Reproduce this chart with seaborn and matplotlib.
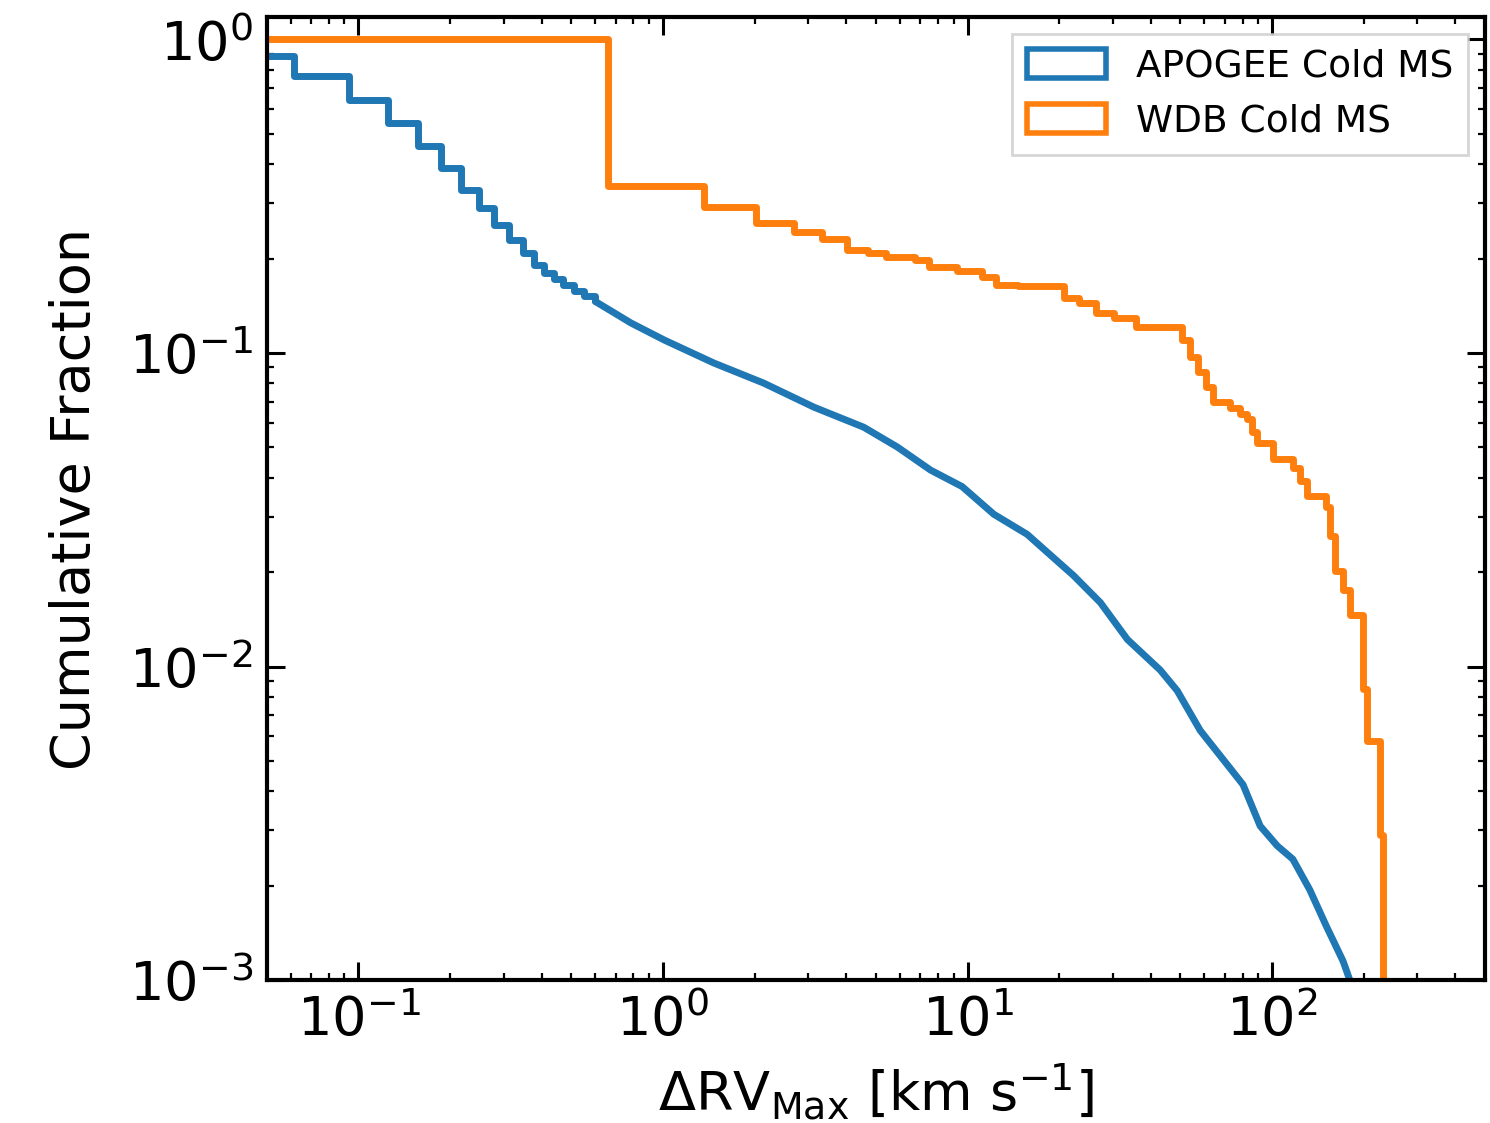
import matplotlib
matplotlib.use("Agg")
import matplotlib.pyplot as plt
import matplotlib.patches as mpatches
import pandas as pd
import seaborn as sns

# ─── Data ────────────────────────────────────────────────────────────────────

# APOGEE cold MS: coarse steps at small ΔRV
apogee_step_x = [0.04, 0.0616, 0.0934, 0.125, 0.157, 0.187, 0.218, 0.249,
                 0.279, 0.313, 0.347, 0.378, 0.407, 0.44, 0.47, 0.51, 0.55, 0.6]
apogee_step_f = [0.885, 0.767, 0.643, 0.543, 0.456, 0.390, 0.332, 0.290,
                 0.256, 0.230, 0.209, 0.191, 0.180, 0.172, 0.165, 0.158, 0.152, 0.146]

# APOGEE cold MS: dense part where the steps are sub-pixel
apogee_x = [0.6, 0.785, 1.01, 1.47, 2.14, 3.13, 4.56, 5.89, 7.57, 9.6, 12.2,
            15.7, 17.7, 22.3, 27.3, 33.5, 42.9, 48.8, 58.1, 71.2, 80.3, 91.4,
            104, 117, 133, 151, 171, 180, 190]
apogee_f = [0.146, 0.1247, 0.110, 0.0929, 0.0802, 0.0672, 0.0580, 0.0501,
            0.0423, 0.0375, 0.0306, 0.0264, 0.0238, 0.0195, 0.0160, 0.0122,
            0.00975, 0.00838, 0.00625, 0.00487, 0.00420, 0.0031, 0.00268,
            0.00243, 0.00194, 0.00148, 0.00115, 0.001, 0.0008]

# WDB cold MS
wdb_x = [0.04, 0.66, 1.36, 2.02, 2.69, 3.32, 4.01, 4.73, 5.42, 6.70, 7.50,
         9.27, 11.2, 12.4, 14.7, 20.8, 23.3, 26.5, 30.3, 35.8, 50.7, 53.8,
         57.2, 60.8, 64.1, 72.8, 78.5, 82.8, 86.0, 89.3, 100.7, 117, 123.5,
         130, 150, 155, 161, 171, 180, 199, 205, 226, 231]
wdb_f = [1.0, 0.342, 0.293, 0.260, 0.244, 0.231, 0.213, 0.209, 0.203, 0.198,
         0.188, 0.182, 0.175, 0.165, 0.163, 0.150, 0.1445, 0.134, 0.129, 0.121,
         0.110, 0.097, 0.087, 0.078, 0.070, 0.067, 0.064, 0.0615, 0.056,
         0.0515, 0.046, 0.043, 0.039, 0.0349, 0.0323, 0.026, 0.0201, 0.0175,
         0.0146, 0.0085, 0.0058, 0.0029, 1e-5]

labels = ["APOGEE Cold MS", "WDB Cold MS"]
colors = ["#1f77b4", "#ff7f0e"]

# ─── Style ───────────────────────────────────────────────────────────────────

sns.set_style("ticks")
plt.rcParams["font.family"] = ["DejaVu Sans"]
plt.rcParams["mathtext.fontset"] = "dejavusans"
plt.rcParams["text.color"] = "black"
plt.rcParams["axes.labelcolor"] = "black"
for ax_name in ("xtick", "ytick"):
    plt.rcParams[ax_name + ".direction"] = "in"
    plt.rcParams[ax_name + ".major.size"] = 13
    plt.rcParams[ax_name + ".minor.size"] = 5
    plt.rcParams[ax_name + ".major.width"] = 2.2
    plt.rcParams[ax_name + ".minor.width"] = 1.6
    plt.rcParams[ax_name + ".color"] = "black"
    plt.rcParams[ax_name + ".labelcolor"] = "black"
plt.rcParams["axes.edgecolor"] = "black"
plt.rcParams["axes.linewidth"] = 3

fig = plt.figure(figsize=(14.9, 11.23), dpi=100)
ax = fig.add_axes([0.179, 0.1273, 0.8176, 0.8576])
ax.set_xscale("log")
ax.set_yscale("log")

LW = 5
sns.lineplot(data=pd.DataFrame({"x": apogee_step_x, "f": apogee_step_f}),
             x="x", y="f", drawstyle="steps-post", color=colors[0],
             linewidth=LW, estimator=None, sort=False, ax=ax)
sns.lineplot(data=pd.DataFrame({"x": apogee_x, "f": apogee_f}),
             x="x", y="f", color=colors[0], linewidth=LW,
             estimator=None, sort=False, ax=ax)
sns.lineplot(data=pd.DataFrame({"x": wdb_x, "f": wdb_f}),
             x="x", y="f", drawstyle="steps-post", color=colors[1],
             linewidth=LW, estimator=None, sort=False, ax=ax)

ax.set_xlim(0.05, 500)
ax.set_ylim(1e-3, 1.18)
ax.tick_params(which="both", top=True, right=True, labelsize=39, pad=10)

ax.set_xlabel("ΔRV$_{\\mathrm{Max}}$ [km s$^{-1}$]", fontsize=39, labelpad=10)
ax.set_ylabel("Cumulative Fraction", fontsize=39, labelpad=20)

handles = [mpatches.Patch(facecolor="none", edgecolor=c, linewidth=4, label=l)
           for c, l in zip(colors, labels)]
leg = ax.legend(handles=handles, loc="upper right", fontsize=27,
                handlelength=2.1, handleheight=0.8, handletextpad=0.8,
                borderaxespad=0.45, fancybox=False)
leg.get_frame().set_edgecolor("#cccccc")
leg.get_frame().set_linewidth(2)

fig.savefig("out.png", dpi=100)
plt.close(fig)
